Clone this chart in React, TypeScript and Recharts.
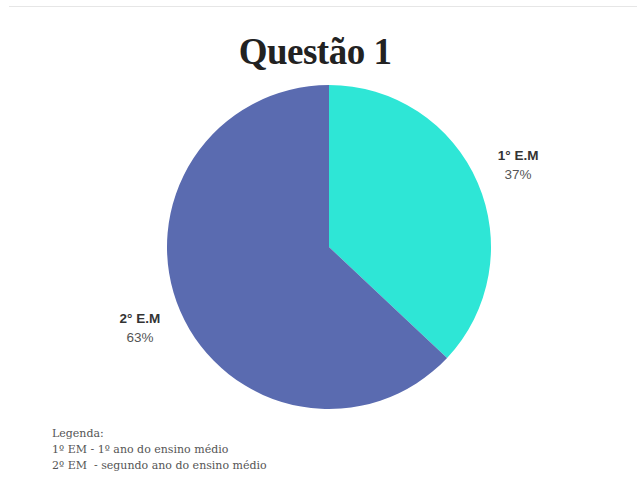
import React from "react";
import { PieChart, Pie, Cell } from "recharts";

const categories = ["1° E.M", "2° E.M"];
const values = [37, 63];
const colors = ["#2EE6D6", "#5A6BB0"];
const legendLines = [
  "Legenda:",
  "1º EM - 1º ano do ensino médio",
  "2º EM  - segundo ano do ensino médio",
];

const data = categories.map((name, i) => ({ name, value: values[i] }));
const RAD = Math.PI / 180;

const renderLabel = (props: any) => {
  const { cx, cy, midAngle, outerRadius, index, percent } = props;
  const r = outerRadius + 44;
  const x = cx + r * Math.cos(-midAngle * RAD);
  const y = cy + r * Math.sin(-midAngle * RAD);
  return (
    <g>
      <text
        x={x}
        y={y - 10}
        textAnchor="middle"
        dominantBaseline="central"
        fontFamily="Liberation Sans, Arial, sans-serif"
        fontWeight="bold"
        fontSize={13.5}
        fill="#333333"
      >
        {categories[index]}
      </text>
      <text
        x={x}
        y={y + 9}
        textAnchor="middle"
        dominantBaseline="central"
        fontFamily="Liberation Sans, Arial, sans-serif"
        fontSize={13.5}
        fill="#555555"
      >
        {`${Math.round(percent * 100)}%`}
      </text>
    </g>
  );
};

export default function App() {
  return (
    <div
      style={{
        position: "absolute",
        left: 0,
        top: 0,
        width: 637,
        height: 479,
        background: "#ffffff",
        overflow: "hidden",
      }}
    >
      <div
        style={{
          position: "absolute",
          left: 9,
          top: 6,
          width: 628,
          height: 1,
          background: "#e6e6e6",
        }}
      />
      <div
        style={{
          position: "absolute",
          left: 0,
          top: 30,
          width: 630,
          textAlign: "center",
          fontFamily: "Liberation Serif, DejaVu Serif, serif",
          fontWeight: 900,
          fontSize: 37,
          color: "#222222",
          lineHeight: "44px",
          letterSpacing: -0.5,
        }}
      >
        Questão 1
      </div>
      <PieChart width={637} height={479}>
        <Pie
          data={data}
          dataKey="value"
          nameKey="name"
          cx={324}
          cy={242}
          outerRadius={162}
          startAngle={90}
          endAngle={-270}
          stroke="none"
          label={renderLabel}
          labelLine={false}
          isAnimationActive={false}
        >
          {data.map((d, i) => (
            <Cell key={d.name} fill={colors[i]} />
          ))}
        </Pie>
      </PieChart>
      <div
        style={{
          position: "absolute",
          left: 52,
          top: 426,
          fontFamily: "DejaVu Serif, Liberation Serif, serif",
          fontSize: 11,
          color: "#555555",
          lineHeight: "16px",
          whiteSpace: "pre",
        }}
      >
        {legendLines.map((l) => (
          <div key={l}>{l}</div>
        ))}
      </div>
    </div>
  );
}
